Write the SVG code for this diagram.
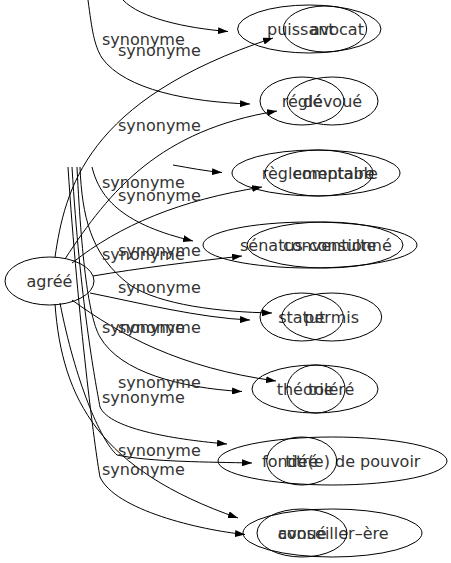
<svg xmlns="http://www.w3.org/2000/svg" width="451" height="563" viewBox="0 0 451 563">
<defs>
<marker id="ah" markerWidth="10" markerHeight="7" refX="10" refY="3.5" orient="auto" markerUnits="userSpaceOnUse">
<path d="M0,0 L10,3.5 L0,7 z" fill="#000"/>
</marker>
<style>
.e{fill:none;stroke:#000;stroke-width:1;marker-end:url(#ah)}
.n{fill:none;stroke:#000;stroke-width:1}
text{font-family:"DejaVu Sans",sans-serif;font-size:16px;fill:#333}
.m{text-anchor:middle}
</style>
</defs>
<rect width="451" height="563" fill="#fff"/>
<g id="edges">
<path class="e" d="M88,0 C92,30 94,45 102,58 C125,90 190,102 250,104"/>
<path class="e" d="M123,0 C140,18 185,28 228,31.5"/>
<path class="e" d="M55,257 C65,190 85,100 273,38"/>
<path class="e" d="M65,259 C110,190 160,130 277,111"/>
<path class="e" d="M92,167 C100,200 125,225 193,241"/>
<path class="e" d="M173,165 C190,168 205,171 222,172.5"/>
<path class="e" d="M72,263 C120,225 180,200 262,187"/>
<path class="e" d="M93,276 C140,268 190,262 242,256"/>
<path class="e" d="M80,167 C82,215 90,255 130,285 C160,305 220,312 272,313"/>
<path class="e" d="M90,293 C140,303 200,318 250,320"/>
<path class="e" d="M72,300 C120,335 180,368 276,381"/>
<path class="e" d="M77,167 C82,270 90,320 100,337 C120,372 180,388 242,391.5"/>
<path class="e" d="M72,167 C80,300 95,380 100,407 C110,430 180,440 227,444"/>
<path class="e" d="M55,304 C62,400 100,470 238,518"/>
<path class="e" d="M68,167 C78,320 95,450 100,477 C115,510 200,530 245,534.5"/>
<path class="e" d="M60,303 C75,380 100,440 117,455 C150,462 210,462 252,463"/>
</g>
<g id="labels">
<text x="102" y="44.5">synonyme</text>
<text x="118" y="56">synonyme</text>
<text x="118" y="131">synonyme</text>
<text x="102" y="187.5">synonyme</text>
<text x="118" y="201">synonyme</text>
<text x="102" y="259.5">synonyme</text>
<text x="118" y="256">synonyme</text>
<text x="118" y="292.5">synonyme</text>
<text x="102" y="333">synonyme</text>
<text x="118" y="333">synonyme</text>
<text x="118" y="388">synonyme</text>
<text x="102" y="403">synonyme</text>
<text x="118" y="456">synonyme</text>
<text x="102" y="474.5">synonyme</text>
</g>
<g id="agree"><ellipse class="n" cx="49.5" cy="281" rx="44.5" ry="24"/><text class="m" x="49.5" y="286.5">agréé</text></g>
<g id="puissant"><ellipse class="n" cx="309.3" cy="29" rx="71.7" ry="24"/><text x="267" y="34.5">puissant</text></g>
<g id="avocat"><ellipse class="n" cx="325" cy="29" rx="41.7" ry="23"/><text x="310" y="34.5">avocat</text></g>
<g id="regle"><ellipse class="n" cx="302" cy="101" rx="42" ry="24"/><text class="m" x="302" y="106.5">réglé</text></g>
<g id="devoue"><ellipse class="n" cx="332.5" cy="101" rx="45.5" ry="24"/><text class="m" x="332.5" y="106.5">dévoué</text></g>
<g id="reglementaire"><ellipse class="n" cx="316" cy="173" rx="84" ry="23"/><text x="261.7" y="178.5">règlementaire</text></g>
<g id="comptable"><ellipse class="n" cx="319" cy="173" rx="54" ry="23"/><text x="293" y="178.5">comptable</text></g>
<g id="senatus"><ellipse class="n" cx="310" cy="245" rx="107" ry="23"/><text x="240" y="250.5">sénatus-consulte</text></g>
<g id="conventionne"><ellipse class="n" cx="325" cy="245" rx="78" ry="23"/><text x="283" y="250.5">conventionné</text></g>
<g id="statut"><ellipse class="n" cx="301.7" cy="317" rx="41.7" ry="24"/><text class="m" x="301.7" y="322.5">statut</text></g>
<g id="permis"><ellipse class="n" cx="331.7" cy="317" rx="50" ry="24"/><text class="m" x="331.7" y="322.5">permis</text></g>
<g id="theorie"><ellipse class="n" cx="315" cy="389" rx="63" ry="24"/><text x="276.7" y="394.5">théorie</text></g>
<g id="tolere"><ellipse class="n" cx="316" cy="389" rx="29" ry="24"/><text x="308" y="394.5">toléré</text></g>
<g id="fonde"><ellipse class="n" cx="332.5" cy="461" rx="114.5" ry="24"/><text x="262" y="466.5">fondé(e) de pouvoir</text></g>
<g id="titre"><ellipse class="n" cx="301.7" cy="461" rx="35" ry="24"/><text class="m" x="301.7" y="466.5">titré</text></g>
<g id="conseiller"><ellipse class="n" cx="332.5" cy="533" rx="89.5" ry="24"/><text x="278" y="538.5">conseiller–ère</text></g>
<g id="avoue"><ellipse class="n" cx="302" cy="533" rx="45" ry="24"/><text class="m" x="302" y="538.5">avoué</text></g>
</svg>
